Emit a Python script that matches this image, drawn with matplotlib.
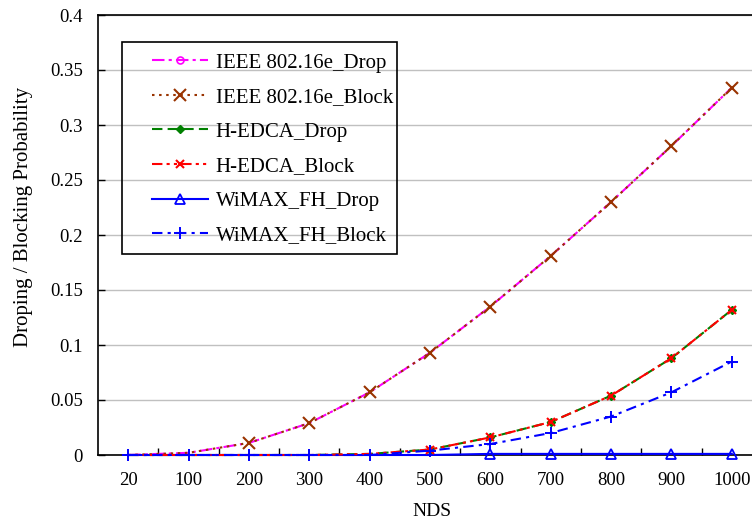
import matplotlib
matplotlib.use("Agg")
import matplotlib.pyplot as plt
from matplotlib.lines import Line2D
from matplotlib.patches import Rectangle
import numpy as np

plt.rcParams['font.family'] = ['Liberation Serif', 'DejaVu Serif']

nds = ['20', '100', '200', '300', '400', '500', '600', '700', '800', '900', '1000']
ieee_drop = [0.0, 0.002, 0.011, 0.029, 0.057, 0.093, 0.135, 0.181, 0.230, 0.281, 0.334]
ieee_block = [0.0, 0.002, 0.011, 0.029, 0.057, 0.093, 0.135, 0.181, 0.230, 0.281, 0.334]
hedca_drop = [0.0, 0.0, 0.0, 0.0, 0.001, 0.005, 0.016, 0.030, 0.054, 0.088, 0.132]
hedca_block = [0.0, 0.0, 0.0, 0.0, 0.001, 0.005, 0.016, 0.030, 0.054, 0.088, 0.132]
wimax_drop = [0.0, 0.0, 0.0, 0.0, 0.0, 0.0, 0.001, 0.001, 0.001, 0.001, 0.001]
wimax_block = [0.0, 0.0, 0.0, 0.0, 0.0, 0.004, 0.010, 0.020, 0.035, 0.057, 0.085]
yticks = [0, 0.05, 0.1, 0.15, 0.2, 0.25, 0.3, 0.35, 0.4]
ytick_labels = ['0', '0.05', '0.1', '0.15', '0.2', '0.25', '0.3', '0.35', '0.4']

W, H = 752, 523
fig = plt.figure(figsize=(W / 100, H / 100), dpi=100)
left_px, right_px, top_px, bot_px = 98, 762, 15, 455
ax = fig.add_axes([left_px / W, 1 - bot_px / H, (right_px - left_px) / W, (bot_px - top_px) / H])

x = np.arange(len(nds))
lw = 1.5
magenta = '#FF00FF'
brown = '#993300'
green = '#008000'
red = '#FF0000'
blue = '#0000FF'

ax.plot(x, ieee_drop, color=magenta, lw=lw, ls=(0, (6, 2, 1.5, 2)), zorder=3, clip_on=False)
ax.plot(x, ieee_block, color=brown, lw=lw, ls=(0, (1.2, 2.2)), marker='x', ms=8.5, mew=1.5,
        markevery=list(range(2, 11)), zorder=4, clip_on=False)
ax.plot(x, hedca_drop, color=green, lw=lw, ls=(0, (5, 2.5)), marker='D', ms=4.5,
        markevery=list(range(5, 11)), zorder=3, clip_on=False)
ax.plot(x, hedca_block, color=red, lw=lw, ls=(0, (5, 2, 1.5, 2, 1.5, 2)), marker='x', ms=5.5, mew=1.5,
        markevery=list(range(5, 11)), zorder=4, clip_on=False)
ax.plot(x, wimax_drop, color=blue, lw=lw, ls='-', marker='^', ms=7, mfc='none', mew=1.3,
        markevery=list(range(6, 11)), zorder=3, clip_on=False)
ax.plot(x, wimax_block, color=blue, lw=lw, ls=(0, (5, 2.5, 1.5, 2.5)), marker='+', ms=9, mew=1.4,
        zorder=5, clip_on=False)

ax.set_xlim(-0.5, len(nds) - 0.5)
ax.set_ylim(0, 0.4)
ax.set_yticks(yticks)
ax.set_yticklabels(ytick_labels)
ax.set_xticks(x)
ax.set_xticklabels(nds)
ax.set_xticks(x[:-1] + 0.5, minor=True)
ax.tick_params(axis='x', which='major', length=0, pad=12, labelsize=13.5)
ax.tick_params(axis='x', which='minor', length=5, direction='in', width=1)
ax.tick_params(axis='y', which='major', length=5, direction='in', width=1, pad=11, labelsize=13.5)
ax.grid(axis='y', color='#C0C0C0', lw=1)
ax.set_axisbelow(True)
for s in ['left', 'bottom', 'top', 'right']:
    ax.spines[s].set_linewidth(1.2)
    ax.spines[s].set_color('black')

fig.text(24 / W, 1 - 217 / H, 'Droping / Blocking Probability', rotation=90,
         ha='center', va='center', fontsize=15)
fig.text(432 / W, 1 - 512 / H, 'NDS', ha='center', va='center', fontsize=14)

# legend
handles = [
    Line2D([], [], color=magenta, lw=lw, ls=(0, (6, 2, 1.5, 2)), marker='o', ms=5, mfc='none', mew=1.2),
    Line2D([], [], color=brown, lw=lw, ls=(0, (1.2, 2.2)), marker='x', ms=8.5, mew=1.5),
    Line2D([], [], color=green, lw=lw, ls=(0, (5, 2.5)), marker='D', ms=4.5),
    Line2D([], [], color=red, lw=lw, ls=(0, (5, 2, 1.5, 2, 1.5, 2)), marker='x', ms=5.5, mew=1.5),
    Line2D([], [], color=blue, lw=lw, ls='-', marker='^', ms=7, mfc='none', mew=1.3),
    Line2D([], [], color=blue, lw=lw, ls=(0, (5, 2.5, 1.5, 2.5)), marker='+', ms=9, mew=1.4),
]
labels = ['IEEE 802.16e_Drop', 'IEEE 802.16e_Block', 'H-EDCA_Drop', 'H-EDCA_Block',
          'WiMAX_FH_Drop', 'WiMAX_FH_Block']
leg = fig.legend(handles, labels, loc='upper left', bbox_to_anchor=(152 / W, 1 - 53 / H),
                 bbox_transform=fig.transFigure, frameon=False, fontsize=15,
                 handlelength=2.7, handletextpad=0.35, labelspacing=0.72, borderpad=0,
                 borderaxespad=0)
fig.add_artist(Rectangle((122 / W, 1 - 254 / H), (397 - 122) / W, (254 - 42) / H,
                         transform=fig.transFigure, fill=False, ec='black', lw=1.2, zorder=10))

fig.savefig('out.png', dpi=100)
